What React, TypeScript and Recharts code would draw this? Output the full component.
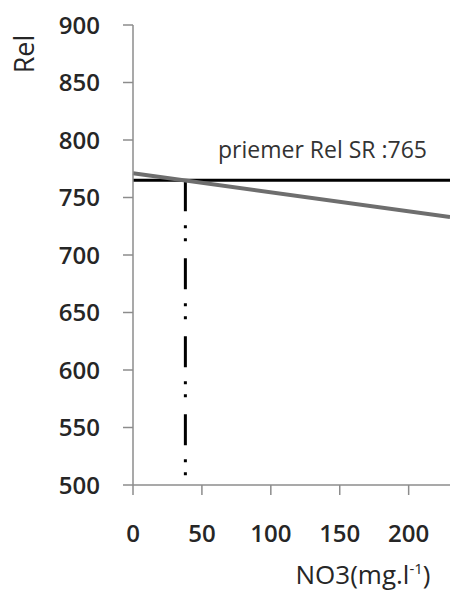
import React from 'react';
import { LineChart, Line, XAxis, YAxis, ReferenceLine } from 'recharts';

// regression of Rel against nitrate (endpoints)
const no3 = [0, 230];
const rel = [771, 733];
const xTicks = [0, 50, 100, 150, 200];
const yTicks = [500, 550, 600, 650, 700, 750, 800, 850, 900];
const meanRel = 765;
const crossNo3 = 38;

const data = no3.map((x, i) => ({ x, rel: rel[i] }));

const FONT = '"Open Sans", "Noto Sans", sans-serif';
const tickStyle = { fontSize: 24, fontWeight: 600, fill: '#262626', fontFamily: FONT };

export default function App() {
  return (
    <div style={{ position: 'absolute', left: 0, top: 0, width: 450, height: 594, background: '#fff' }}>
      <LineChart width={450} height={594} data={data} margin={{ top: 25, right: 0, left: 0, bottom: 0 }}>
        <XAxis
          type="number"
          dataKey="x"
          domain={[0, 230]}
          ticks={xTicks}
          height={109}
          tickSize={10}
          tickMargin={30}
          tick={tickStyle}
          axisLine={{ stroke: '#8c8c8c', strokeWidth: 1.5 }}
          tickLine={{ stroke: '#8c8c8c', strokeWidth: 1.5 }}
          label={(props: any) => {
            const vb = props.viewBox;
            return (
              <text x={vb.x + 230} y={vb.y + 99} textAnchor="middle" fontSize={26} fill="#262626" fontFamily={FONT}>
                NO3(mg.l
                <tspan fontSize={15} dy={-10}>-1</tspan>
                <tspan dy={10}>)</tspan>
              </text>
            );
          }}
        />
        <YAxis
          type="number"
          domain={[500, 900]}
          ticks={yTicks}
          width={133}
          tickSize={10}
          tickMargin={23}
          tick={tickStyle}
          axisLine={{ stroke: '#8c8c8c', strokeWidth: 1.5 }}
          tickLine={{ stroke: '#8c8c8c', strokeWidth: 1.5 }}
          label={(props: any) => {
            const vb = props.viewBox;
            return (
              <text
                x={vb.x + 23}
                y={vb.y + 29}
                textAnchor="middle"
                dominantBaseline="central"
                transform={`rotate(-90 ${vb.x + 23} ${vb.y + 29})`}
                fontSize={27}
                fill="#262626"
                fontFamily={FONT}
              >
                Rel
              </text>
            );
          }}
        />
        <ReferenceLine
          y={meanRel}
          stroke="#000"
          strokeWidth={3}
          label={(props: any) => {
            const vb = props.viewBox;
            return (
              <text x={vb.x + 85} y={vb.y - 22} fontSize={23} fill="#333" fontFamily={FONT}>
                priemer Rel SR :765
              </text>
            );
          }}
        />
        <ReferenceLine
          segment={[
            { x: crossNo3, y: meanRel },
            { x: crossNo3, y: 500 },
          ]}
          stroke="#000"
          strokeWidth={3}
          strokeDasharray="31 14 3 10 3 17"
        />
        <Line
          type="linear"
          dataKey="rel"
          stroke="#6e6e6e"
          strokeWidth={4}
          dot={false}
          isAnimationActive={false}
        />
      </LineChart>
    </div>
  );
}
